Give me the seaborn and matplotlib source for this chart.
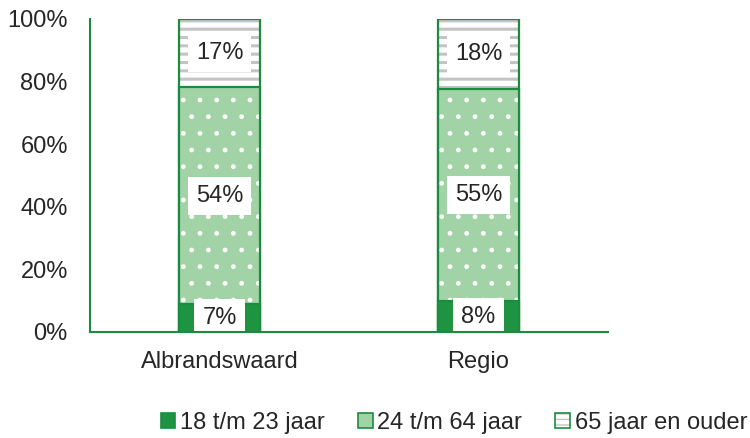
import matplotlib
matplotlib.use("Agg")
import matplotlib.pyplot as plt
import seaborn as sns
import numpy as np
import pandas as pd
from matplotlib.patches import Patch
from matplotlib.legend_handler import HandlerTuple

categories = ["Albrandswaard", "Regio"]
series_names = ["18 t/m 23 jaar", "24 t/m 64 jaar", "65 jaar en ouder"]
v_18_23 = [7, 8]
v_24_64 = [54, 55]
v_65plus = [17, 18]
yticks = [0, 20, 40, 60, 80, 100]
ytick_labels = ["0%", "20%", "40%", "60%", "80%", "100%"]

sns.set_theme(style="white")
plt.rcParams["font.family"] = ["Liberation Sans", "DejaVu Sans"]

GREEN_EDGE = "#1b8c3f"
DARK = "#1e9443"
LIGHT = "#a2d3a6"
STRIPE = "#c4c4c4"
TXT = "#262626"
FS = 17

vals = np.array([v_18_23, v_24_64, v_65plus], dtype=float)
totals = vals.sum(axis=0)
shares = vals / totals * 100
cum = np.cumsum(shares, axis=0)

fig = plt.figure(figsize=(7.5, 4.38), dpi=100)
ax = fig.add_axes([90 / 750, 1 - 332 / 438, 518 / 750, 313 / 438])

styles = [
    (DARK, None, DARK),
    (LIGHT, ".", "white"),
    ("white", "--", STRIPE),
]
W = 0.31
for i in [2, 1, 0]:
    face, hatch, hcol = styles[i]
    df = pd.DataFrame({"cat": categories, "val": cum[i]})
    before = len(ax.patches)
    sns.barplot(data=df, x="cat", y="val", ax=ax, color=face, width=W,
                saturation=1, hatch=hatch, edgecolor=hcol, linewidth=0)
    for p in ax.patches[before:]:
        p.set_facecolor(face)
        if hasattr(p, "set_hatch_linewidth"):
            p.set_hatch_linewidth(2.2 if hatch == "--" else 1.0)
    before = len(ax.patches)
    sns.barplot(data=df, x="cat", y="val", ax=ax, color="none", width=W,
                saturation=1, edgecolor=GREEN_EDGE, linewidth=1.6, fill=False)
    for p in ax.patches[before:]:
        p.set_facecolor("none")
        p.set_edgecolor(GREEN_EDGE)

# labels
for j in range(len(categories)):
    for i in range(3):
        lo = cum[i - 1][j] if i > 0 else 0
        mid = (lo + cum[i][j]) / 2
        ax.text(j, mid, f"{int(vals[i][j])}%", ha="center", va="center",
                fontsize=FS, color=TXT, zorder=10, clip_on=True,
                bbox=dict(facecolor="white", edgecolor="none", pad=5.8))

ax.set_xlim(-0.5, 1.5)
ax.set_ylim(0, 100)
ax.set_yticks(yticks)
ax.set_yticklabels(ytick_labels)
ax.set_xlabel("")
ax.set_ylabel("")
ax.tick_params(axis="both", length=0, labelsize=FS, colors=TXT)
ax.tick_params(axis="y", pad=16)
ax.tick_params(axis="x", pad=14)
for s in ["top", "right"]:
    ax.spines[s].set_visible(False)
for s in ["left", "bottom"]:
    ax.spines[s].set_color(GREEN_EDGE)
    ax.spines[s].set_linewidth(1.5)
    ax.spines[s].set_zorder(20)

h3_fill = Patch(facecolor="white", edgecolor=STRIPE, linewidth=0, hatch="---")
if hasattr(h3_fill, "set_hatch_linewidth"):
    h3_fill.set_hatch_linewidth(1.5)
h3_edge = Patch(facecolor="none", edgecolor=GREEN_EDGE, linewidth=1.2)
handles = [
    Patch(facecolor=DARK, edgecolor=GREEN_EDGE, linewidth=1.2),
    Patch(facecolor=LIGHT, edgecolor=GREEN_EDGE, linewidth=1.2),
    (h3_fill, h3_edge),
]
fig.legend(handles, series_names, loc="center", bbox_to_anchor=(454 / 750, 1 - 423 / 438),
           ncol=3, frameon=False, fontsize=FS, handlelength=0.62, handleheight=0.62,
           handletextpad=0.2, columnspacing=1.4, labelcolor=TXT,
           borderpad=0, borderaxespad=0,
           handler_map={tuple: HandlerTuple(ndivide=1, pad=0)})

fig.savefig("out.png", dpi=100)
